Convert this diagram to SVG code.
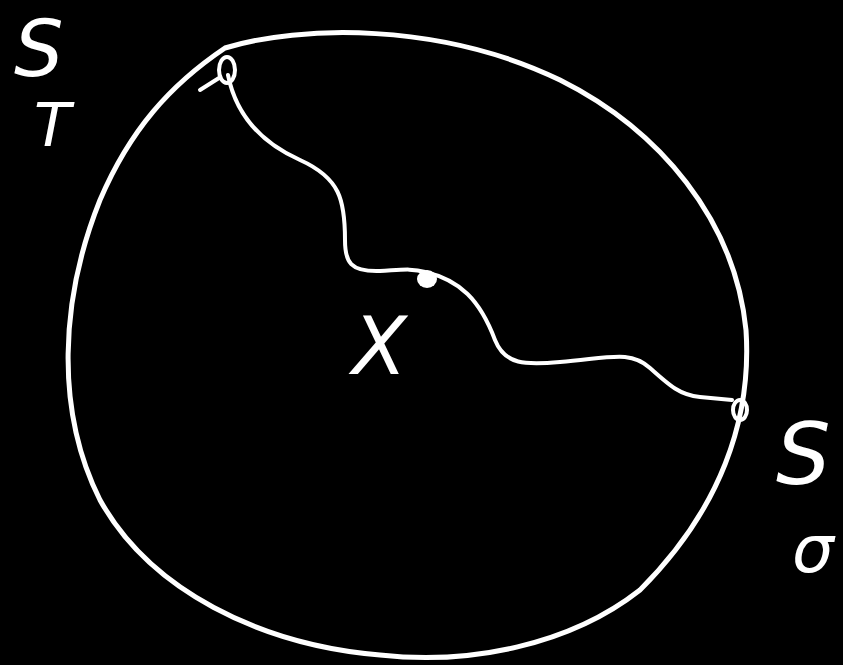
<svg xmlns="http://www.w3.org/2000/svg" width="843" height="665" viewBox="0 0 843 665">
<style>
.ln{fill:none;stroke:#fff;stroke-width:5;stroke-linecap:round;stroke-linejoin:round}
.thin{fill:none;stroke:#fff;stroke-width:4;stroke-linecap:round}
.lbl{fill:#fff;font-family:"DejaVu Sans","Liberation Sans",sans-serif;font-style:italic}
</style>
<rect width="843" height="665" fill="#000"/>
<g id="boundary">
<path class="ln" d="M225,48 C300,25 440,22 560,80 C660,130 735,220 746,330 C752,420 720,510 640,590 C570,645 470,665 380,655 C260,645 150,590 100,500 C55,410 60,300 100,200 C130,130 170,85 225,48 Z"/>
</g>
<g id="connectors">
<path class="thin" d="M228,75 C235,110 255,140 300,160 C340,178 345,200 345,240 C345,262 350,272 380,271 C400,270 412,268 425,272 C460,280 480,300 495,340 C505,365 525,365 560,362 C610,358 630,350 650,368 C670,386 680,395 700,397 L732,400"/>
</g>
<g id="node-ST-point">
<ellipse cx="227" cy="70" rx="8" ry="13" class="thin"/>
<path class="thin" d="M219,78 L200,90"/>
</g>
<g id="node-X-point">
<ellipse cx="427" cy="279" rx="10" ry="9" fill="#fff"/>
</g>
<g id="node-Ssigma-point">
<ellipse cx="740" cy="410" rx="7" ry="10" class="thin"/>
</g>
<g id="labels">
<text class="lbl" x="14" y="76" font-size="78">S</text>
<text class="lbl" x="34" y="146" font-size="60">T</text>
<text class="lbl" x="352" y="374" font-size="80">X</text>
<text class="lbl" x="776" y="484" font-size="86">S</text>
<text class="lbl" x="792" y="572" font-size="66">σ</text>
</g>
</svg>
